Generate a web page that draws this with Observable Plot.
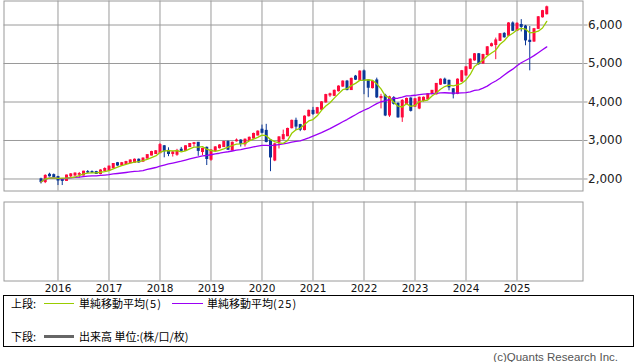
<!DOCTYPE html>
<html>
<head>
<meta charset="utf-8">
<script src="https://cdn.jsdelivr.net/npm/d3@7"></script>
<script src="https://cdn.jsdelivr.net/npm/@observablehq/plot@0.6"></script>
<style>
  html, body { margin: 0; padding: 0; background: #fff; }
  #wrap { position: relative; width: 638px; height: 362px; overflow: hidden; background: #fff; }
  #upper, #lower { position: absolute; left: 0; }
  #upper { top: 0; }
  #lower { top: 192px; }
  #legend { position: absolute; left: 3px; top: 295px; width: 631px; height: 52px; box-sizing: border-box;
            border: 1px solid #000; font-family: "Noto Sans CJK JP", sans-serif; font-size: 11px; color: #000; }
  #legend span.t { position: absolute; line-height: 13px; white-space: nowrap; }
  #legend span.t .p { letter-spacing: 1.2px; }
  #legend span.l { position: absolute; }
  #copy { position: absolute; right: 20px; top: 350px; font-family: "Liberation Sans", sans-serif; font-size: 11.5px; color: #555; line-height: 14px; }
</style>
</head>
<body>
<div id="wrap">
  <div id="upper"></div>
  <div id="lower"></div>
  <div id="legend"></div>
  <div id="copy">(c)Quants Research Inc.</div>
</div>
<script>
// ---- data (monthly candles, starting Sep 2015) ----
const startYear = 2015;
const startMonth = 9;
const open  = [1990,1920,2110,2100,2050,1980,1950,2070,2090,2110,2090,2180,2180,2180,2130,2210,2220,2280,2410,2350,
               2390,2410,2420,2500,2450,2530,2610,2650,2670,2850,2730,2650,2630,2760,2730,2830,2910,2940,2700,2810,
               2500,2730,2800,2830,2960,2740,2980,3000,2900,2990,3050,3130,3280,3250,3000,2480,2950,3030,3110,3320,
               3510,3400,3270,3630,3770,3700,3800,3990,4170,4160,4280,4400,4530,4310,4660,4560,4795,4560,4360,4560,
               4100,4160,3650,4100,3950,3600,3950,4090,3880,3830,4030,4070,4210,4200,4450,4580,4550,4330,4210,4530,
               4690,4860,5080,5240,5000,5220,5450,5480,5590,5770,5720,6040,5850,6000,5960,5590,5570,5900,6200,6280];
const high  = [2020,2110,2150,2130,2070,2000,2100,2140,2160,2170,2200,2220,2210,2200,2240,2290,2340,2400,2430,2430,
               2460,2500,2520,2520,2550,2630,2720,2740,2920,2870,2810,2720,2770,2820,2860,2920,2950,2950,2800,2830,
               2760,2840,2890,2980,2990,2960,3040,3020,3040,3090,3190,3250,3400,3420,3020,2930,3100,3270,3320,3530,
               3580,3420,3640,3790,3860,3860,4010,4200,4230,4310,4420,4550,4560,4620,4690,4810,4830,4580,4560,4620,
               4200,4200,4150,4140,3980,4060,4100,4110,4090,4130,4130,4220,4300,4480,4600,4620,4570,4350,4600,4820,
               4920,5120,5260,5260,5240,5440,5530,5660,5780,5800,6060,6080,6060,6140,5990,5960,5910,6220,6380,6490];
const low   = [1870,1880,2050,2040,1830,1830,1940,2040,2070,2020,2080,2140,2140,2120,2110,2190,2200,2270,2330,2330,
               2380,2400,2410,2410,2440,2520,2600,2640,2660,2550,2580,2570,2590,2700,2720,2820,2830,2590,2610,2350,
               2460,2710,2780,2820,2740,2720,2960,2830,2830,2980,3040,3120,3170,2940,2190,2450,2780,3010,3100,3300,
               3260,3230,3250,3610,3650,3690,3780,3970,4120,4140,4260,4380,4290,4300,4560,4540,4190,4110,4340,4090,
               3820,3620,3600,3920,3580,3470,3930,3740,3860,3800,4000,4050,4180,4180,4430,4450,4290,4080,4190,4510,
               4670,4840,5060,4950,4980,5200,5430,5100,5570,5660,5700,5830,5830,5820,5460,4810,5550,5880,6180,6260];
const close = [1920,2080,2070,2050,1960,1950,2090,2120,2140,2130,2190,2170,2165,2130,2220,2260,2320,2390,2350,2410,
               2440,2480,2500,2430,2530,2620,2700,2720,2880,2720,2650,2690,2730,2730,2850,2910,2930,2730,2780,2520,
               2740,2820,2870,2960,2760,2940,3000,2910,3020,3070,3170,3230,3200,2960,2560,2900,3080,3140,3300,3510,
               3360,3280,3620,3770,3690,3840,3990,4180,4200,4290,4400,4530,4310,4600,4580,4790,4550,4370,4530,4120,
               4130,3650,4120,3950,3600,4030,4080,3770,4070,4110,4110,4200,4290,4470,4580,4470,4380,4200,4580,4800,
               4900,5100,5240,4990,5220,5420,5500,5600,5760,5680,6040,5850,6030,5950,5600,5560,5890,6200,6360,6460];
const years  = [2016,2017,2018,2019,2020,2021,2022,2023,2024,2025];
const yTicks = [2000,3000,4000,5000,6000];

const UP = "#ff0a3c", DOWN = "#0a3796", MA5 = "#99cc00", MA25 = "#9b00f5", GRID = "#9a9a9a";

const data = close.map((c, i) => ({
  date: startYear + (startMonth - 1 + i) / 12,
  open: open[i], high: high[i], low: low[i], close: c,
  top: Math.max(open[i], c), bot: Math.min(open[i], c),
  up: c >= open[i]
}));

const xDomain = [2014.9412, 2026.2941];
const fam = "DejaVu Sans, sans-serif";

const upper = Plot.plot({
  width: 638, height: 192,
  marginLeft: 3.5, marginRight: 55.5, marginTop: 0.5, marginBottom: 1.5,
  style: { fontFamily: fam, background: "transparent", overflow: "visible" },
  x: { domain: xDomain, axis: null },
  y: { domain: [1688.3, 6623.4], axis: null },
  marks: [
    Plot.gridY(yTicks, { stroke: GRID, strokeOpacity: 1 }),
    Plot.gridX(years, { stroke: GRID, strokeOpacity: 1 }),
    Plot.frame({ stroke: GRID }),
    Plot.ruleX(data, { x: "date", y1: "low", y2: "high", stroke: d => d.up ? UP : DOWN, strokeWidth: 1 }),
    Plot.ruleX(data, { x: "date", y1: "top", y2: "bot", stroke: d => d.up ? UP : DOWN, strokeWidth: 3,
                       insetTop: -0.5, insetBottom: -0.5 }),
    Plot.lineY(data, Plot.windowY({ k: 25, anchor: "end", strict: false },
                     { x: "date", y: "close", stroke: MA25, strokeWidth: 1.3 })),
    Plot.lineY(data, Plot.windowY({ k: 5, anchor: "end", strict: false },
                     { x: "date", y: "close", stroke: MA5, strokeWidth: 1.3 })),
    Plot.axisY(yTicks, { anchor: "right", tickFormat: d3.format(","), tickSize: 4, tickPadding: 1,
                         fontSize: 12, stroke: GRID, fill: "#222" })
  ]
});
document.getElementById("upper").appendChild(upper);

const lower = Plot.plot({
  width: 638, height: 104,
  marginLeft: 3.5, marginRight: 55.5, marginTop: 9.5, marginBottom: 15.5,
  style: { fontFamily: fam, background: "transparent" },
  x: { domain: xDomain },
  y: { domain: [0, 1], axis: null },
  marks: [
    Plot.gridX(years, { stroke: GRID, strokeOpacity: 1 }),
    Plot.frame({ stroke: GRID }),
    Plot.axisX(years, { tickSize: 0, tickPadding: 4, tickFormat: d => String(d), fontSize: 10.5, fill: "#111" })
  ]
});
document.getElementById("lower").appendChild(lower);

// ---- legend ----
const legend = document.getElementById("legend");
function addText(html, left, top) {
  const s = document.createElement("span"); s.className = "t";
  s.innerHTML = html; s.style.left = left + "px"; s.style.top = top + "px";
  legend.appendChild(s);
}
function addLine(color, left, top, w, h) {
  const s = document.createElement("span"); s.className = "l";
  Object.assign(s.style, { left: left + "px", top: top + "px", width: w + "px", height: h + "px", background: color });
  legend.appendChild(s);
}
addText("上段:", 7, 0.5);
addLine(MA5, 40, 7, 30, 1);
addText("単純移動平均<span class='p'>(5)</span>", 75, 0.5);
addLine(MA25, 167.5, 7, 31, 1);
addText("単純移動平均<span class='p'>(25)</span>", 203, 0.5);
addText("下段:", 7, 33.5);
addLine("#666", 40, 38.5, 30, 3);
addText("出来高 単位:(株/口/枚)", 75, 33.5);
</script>
</body>
</html>
